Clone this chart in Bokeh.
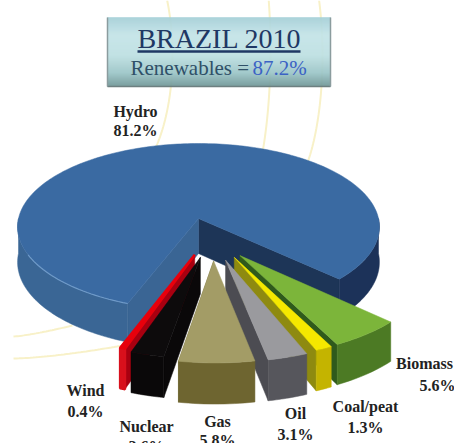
import numpy as np
from bokeh.embed import file_html
from bokeh.models import Range1d
from bokeh.plotting import figure
from bokeh.resources import INLINE

# Brazil 2010 energy mix, share of total in percent
categories = ["Hydro", "Wind", "Nuclear", "Gas", "Oil", "Coal/peat", "Biomass"]
shares = [81.2, 0.4, 2.6, 5.8, 3.1, 1.3, 5.6]
label_text = ["81.2%", "0.4%", "2.6%", "5.8%", "3.1%", "1.3%", "5.6%"]
renewables_share = "87.2%"

W, H = 454, 443

# Projection of the pie plane onto the page
CX, CY = 198.0, 218.0
RX, RY = 180.0, 82.5
PERSP = 0.1
DEPTH = 35.0
GAP_END_DEG = 46.8  # clockwise-from-front angle where the hydro slice begins

# Where each pulled-out wedge has its tip, in pie-plane units
TIPS = {
    "Wind": (-0.02, 0.42),
    "Nuclear": (0.01, 0.45),
    "Gas": (0.08, 0.49),
    "Oil": (0.143, 0.48),
    "Coal/peat": (0.19, 0.45),
    "Biomass": (0.22, 0.43),
}
TOPS = {"Wind": "#e8000c", "Nuclear": "#0d0b0c", "Gas": "#a39c66", "Oil": "#9a9a9e",
        "Coal/peat": "#f5e800", "Biomass": "#7cb53a"}
FRONTS = {"Wind": "#d8101c", "Nuclear": "#0a0809", "Gas": "#6e6530", "Oil": "#56565c",
          "Coal/peat": "#c4b400", "Biomass": "#4c7a24"}
SIDES = {"Wind": "#a80010", "Nuclear": "#0a0809", "Gas": "#6e6530", "Oil": "#4c4c52",
         "Coal/peat": "#8e8a10", "Biomass": "#2f5a1c"}


def project(x, y, drop=0.0):
    """Pie-plane coordinates to page pixels; y points towards the viewer."""
    x, y = np.asarray(x, float), np.asarray(y, float)
    s = 1.0 / (1.0 - PERSP * y)
    return CX + RX * x * s, CY + RY * y * s + drop * s


def rim(a0, a1, n=60, ox=0.0, oy=0.0):
    t = np.radians(np.linspace(a0, a1, n))
    return ox + np.sin(t), oy + np.cos(t)


p = figure(width=W, height=H, output_backend="svg", toolbar_location=None,
           x_range=Range1d(0, W), y_range=Range1d(H, 0), min_border=0,
           outline_line_color=None, background_fill_color="white",
           border_fill_color="white")
p.axis.visible = False
p.grid.visible = False


def poly(xs, ys, color, width=0.5):
    p.patch(list(xs), list(ys), fill_color=color, line_color=color, line_width=width)


# Faint globe outline behind the chart
GLOBE = "#f8f1c8"
for cx_, cy_, a_, b_, y_end in [(120, 55, 52, 125, 146), (230, 50, 40, 170, 150), (280, 55, 42, 140, 172)]:
    y_line = np.linspace(0, y_end, 60)
    x_line = cx_ + a_ * np.sqrt(1 - ((y_line - cy_) / b_) ** 2)
    p.line(x_line, y_line, line_color=GLOBE, line_width=2)
x_line = np.linspace(13, 72, 30)
p.line(x_line, 336 - 11 * ((x_line - 13) / 59) ** 1.3, line_color=GLOBE, line_width=2)
x_line = np.linspace(13, 122, 40)
p.line(x_line, 358 - 13 * ((x_line - 13) / 109) ** 1.5, line_color=GLOBE, line_width=2)

# Hydro: the remaining body of the pie
total = sum(shares)
hydro_deg = shares[0] / total * 360.0
h0, h1 = GAP_END_DEG, GAP_END_DEG + hydro_deg

# cut faces running back to the centre
for a, col in ((h0, "#1d3557"), (h1, "#3a6594")):
    ex, ey = rim(a, a, 1)
    tx, ty = project([0, ex[0]], [0, ey[0]])
    bx, by = project([0, ex[0]], [0, ey[0]], DEPTH)
    poly([tx[0], tx[1], bx[1], bx[0]], [ty[0], ty[1], by[1], by[0]], col)

# outer wall on either side of the gap
for a0, a1, col in ((h0, 90, "#1c3259"), (270, h1, "#3a6695")):
    rx_, ry_ = rim(a0, a1, 60)
    tx, ty = project(rx_, ry_)
    bx, by = project(rx_, ry_, DEPTH)
    poly(list(tx) + list(bx[::-1]), list(ty) + list(by[::-1]), col)

ax, ay = rim(h0, h1, 240)
tx, ty = project(np.append(ax, 0), np.append(ay, 0))
poly(tx, ty, "#3a6aa2")

# lighter lip on the front-left rim
lx, ly = rim(h1, 295, 30)
tx, ty = project(lx, ly)
p.line(tx, ty, line_color="#6f9ac8", line_width=1.2)

# Pulled-out wedges, back to front
angle = GAP_END_DEG
spans = {}
for name, share in zip(categories[:0:-1], shares[:0:-1]):
    d = share / total * 360.0
    spans[name] = (angle - d, angle)
    angle -= d

for name in ["Wind", "Nuclear", "Biomass", "Coal/peat", "Oil", "Gas"]:
    a0, a1 = spans[name]
    ox, oy = TIPS[name]
    rx_, ry_ = rim(a0, a1, 16, ox, oy)
    tx, ty = project(rx_, ry_)
    bx, by = project(rx_, ry_, DEPTH)
    ax_, ay_ = project([ox], [oy])
    axb, ayb = project([ox], [oy], DEPTH)
    # side wall facing the viewer: the left cut right of centre, the right cut left of it
    k = 0 if (a0 + a1) / 2 > 0 else -1
    poly([ax_[0], tx[k], bx[k], axb[0]], [ay_[0], ty[k], by[k], ayb[0]], SIDES[name])
    edge = 2.5 if name == "Wind" else 0.5
    poly(list(tx) + list(bx[::-1]), list(ty) + list(by[::-1]), FRONTS[name], edge)
    poly([ax_[0]] + list(tx), [ay_[0]] + list(ty), TOPS[name], edge)

# Title panel with a vertical tint
BOX = (107, 330, 17, 86)
stops = np.array([0, 0.25, 0.55, 0.8, 1.0])
tints = np.array([[166, 208, 216], [196, 228, 232], [190, 224, 226], [156, 198, 200], [112, 150, 150]])
for yy in np.arange(BOX[2], BOX[3]):
    f = (yy - BOX[2]) / (BOX[3] - BOX[2])
    c = [int(np.interp(f, stops, tints[:, i])) for i in range(3)]
    p.quad(left=BOX[0], right=BOX[1], top=yy, bottom=yy + 1,
           fill_color="#%02x%02x%02x" % tuple(c), line_color="#%02x%02x%02x" % tuple(c),
           line_width=0.5)
p.line([BOX[0], BOX[1]], [BOX[3], BOX[3]], line_color="#6d7f80", line_width=1.5)
for xb in BOX[:2]:
    p.line([xb, xb], [BOX[2], BOX[3]], line_color="#8b9c9e", line_width=1.5)

SERIF = "Liberation Serif"
p.text([219], [38], text=["BRAZIL 2010"], text_font={"value": SERIF}, text_font_size="28px",
       text_color="#1f3864", text_align="center", text_baseline="middle")
p.line([137, 300], [51, 51], line_color="#1f3864", line_width=2.5)
p.text([130], [67], text=["Renewables ="], text_font={"value": SERIF}, text_font_size="21px",
       text_color="#2f5068", text_align="left", text_baseline="middle")
p.text([252], [67], text=[renewables_share], text_font={"value": SERIF}, text_font_size="21px",
       text_color="#3b62c4", text_align="left", text_baseline="middle")

# Slice captions: name above share
centers = {"Hydro": (135, 111, 130), "Wind": (85, 390, 411), "Nuclear": (146, 426, 446),
           "Gas": (217, 421, 440), "Oil": (295, 413, 434), "Coal/peat": (365, 406, 427),
           "Biomass": (424, 363), "Biomass share": (437, 385)}
for name, txt in zip(categories, label_text):
    if name == "Biomass":
        cap, sh = centers[name], centers["Biomass share"]
        name_at, share_at = cap, sh
    else:
        x_, y1, y2 = centers[name]
        name_at, share_at = (x_, y1), (x_, y2)
    for (x_, y_), s_ in ((name_at, name), (share_at, txt)):
        p.text([x_], [y_], text=[s_], text_font={"value": SERIF}, text_font_size="16px",
               text_font_style="bold", text_color="#222222", text_align="center",
               text_baseline="middle")

open("out.html", "w").write(file_html(p, INLINE))
